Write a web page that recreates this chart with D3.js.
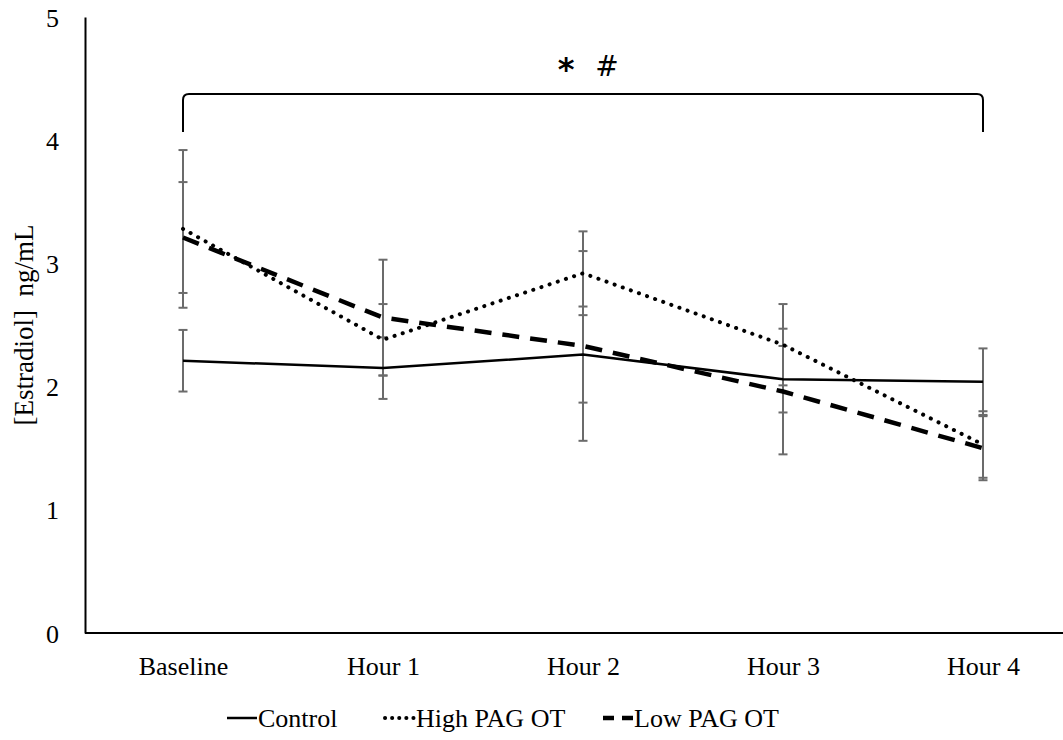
<!DOCTYPE html>
<html>
<head>
<meta charset="utf-8">
<script src="https://cdn.jsdelivr.net/npm/d3@7"></script>
<style>
  body { margin: 0; background: #fff; }
  svg text { font-family: "Liberation Serif", "Times New Roman", serif; fill: #000; }
</style>
</head>
<body>
<svg id="chart" width="1063" height="740"></svg>
<script>
const timepoints = ["Baseline", "Hour 1", "Hour 2", "Hour 3", "Hour 4"];
const seriesNames = ["Control", "High PAG OT", "Low PAG OT"];

const controlMean = [2.21, 2.15, 2.26, 2.06, 2.04];
const controlErr  = [0.25, 0.25, 0.39, 0.27, 0.27];
const highMean    = [3.28, 2.38, 2.92, 2.34, 1.53];
const highErr     = [0.64, 0.29, 0.34, 0.33, 0.27];
const lowMean     = [3.21, 2.56, 2.33, 1.96, 1.50];
const lowErr      = [0.45, 0.47, 0.77, 0.51, 0.26];

const yTicks = [0, 1, 2, 3, 4, 5];

const series = [
  {name: seriesNames[0], mean: controlMean, err: controlErr, dash: null, width: 2.5, cap: "butt"},
  {name: seriesNames[1], mean: highMean, err: highErr, dash: "0.1,8.5", width: 4, cap: "round"},
  {name: seriesNames[2], mean: lowMean, err: lowErr, dash: "17,11", width: 4.5, cap: "butt"}
];

const svg = d3.select('#chart');
const margin = {left: 85};

const x = d3.scalePoint()
  .domain(timepoints)
  .range([83, 1083])
  .padding(0.5);

const y = d3.scaleLinear()
  .domain([0, 5])
  .range([633, 17]);

// y axis
const yAxisG = svg.append('g')
  .attr('transform', `translate(${margin.left},0)`)
  .call(d3.axisLeft(y).tickValues(yTicks).tickSize(0).tickPadding(26).tickFormat(d3.format('d')));
yAxisG.select('.domain').attr('stroke', '#000').attr('stroke-width', 2);
yAxisG.selectAll('text').style('font-size', '26px').attr('dy', '0.35em');

// x axis
const xAxisG = svg.append('g')
  .attr('transform', `translate(0,${y(0)})`)
  .call(d3.axisBottom(x).tickSize(0).tickPadding(24));
xAxisG.select('.domain').attr('stroke', '#000').attr('stroke-width', 2)
  .attr('d', `M${margin.left},0H1063`);
xAxisG.selectAll('text').style('font-size', '26px');

// axis title
svg.append('text')
  .attr('transform', `translate(24,${(y(0) + y(5)) / 2}) rotate(-90)`)
  .attr('text-anchor', 'middle')
  .attr('dy', '0.35em')
  .style('font-size', '27px')
  .style('white-space', 'pre')
  .text('[Estradiol]  ng/mL');

// error bars
const errG = svg.append('g');
series.forEach(s => {
  timepoints.forEach((t, i) => {
    const cx = x(t);
    const hi = y(s.mean[i] + s.err[i]);
    const lo = y(s.mean[i] - s.err[i]);
    errG.append('line').attr('x1', cx).attr('x2', cx).attr('y1', hi).attr('y2', lo)
      .attr('stroke', '#6b6b6b').attr('stroke-width', 2);
    [hi, lo].forEach(yy => errG.append('line')
      .attr('x1', cx - 4.5).attr('x2', cx + 4.5).attr('y1', yy).attr('y2', yy)
      .attr('stroke', '#6b6b6b').attr('stroke-width', 2));
  });
});

// lines
const line = d3.line()
  .x((d, i) => x(timepoints[i]))
  .y(d => y(d));

svg.append('g').selectAll('path')
  .data(series)
  .join('path')
    .attr('d', d => line(d.mean))
    .attr('fill', 'none')
    .attr('stroke', '#000')
    .attr('stroke-width', d => d.width)
    .attr('stroke-linecap', d => d.cap)
    .attr('stroke-dasharray', d => d.dash);

// significance bracket
const bx0 = x(timepoints[0]), bx1 = x(timepoints[4]);
const bTop = 94, bBot = 132, r = 6;
svg.append('path')
  .attr('d', `M${bx0},${bBot}L${bx0},${bTop + r}Q${bx0},${bTop} ${bx0 + r},${bTop}` +
             `L${bx1 - r},${bTop}Q${bx1},${bTop} ${bx1},${bTop + r}L${bx1},${bBot}`)
  .attr('fill', 'none')
  .attr('stroke', '#000')
  .attr('stroke-width', 2);

svg.append('text')
  .attr('x', (bx0 + bx1) / 2 - 17)
  .attr('y', 80)
  .attr('text-anchor', 'middle')
  .style('font-family', 'DejaVu Sans, sans-serif')
  .style('font-size', '32px')
  .style('font-weight', 'bold')
  .text('*');
svg.append('text')
  .attr('x', (bx0 + bx1) / 2 + 24)
  .attr('y', 76)
  .attr('text-anchor', 'middle')
  .style('font-family', 'DejaVu Sans, sans-serif')
  .style('font-size', '28px')
  .text('#');

// legend
const legendX = [227, 385, 603];
const legendY = 718;
const legend = svg.append('g').selectAll('g')
  .data(series)
  .join('g')
    .attr('transform', (d, i) => `translate(${legendX[i]},${legendY})`);
legend.append('line')
  .attr('x1', 0).attr('x2', 30).attr('y1', 0).attr('y2', 0)
  .attr('stroke', '#000')
  .attr('stroke-width', d => d.width)
  .attr('stroke-linecap', d => d.cap)
  .attr('stroke-dasharray', d => d.dash ? (d.cap === 'round' ? '0.1,7' : '11,8') : null);
legend.append('text')
  .attr('x', 31)
  .attr('dy', '0.35em')
  .style('font-size', '26px')
  .text(d => d.name);
</script>
</body>
</html>
